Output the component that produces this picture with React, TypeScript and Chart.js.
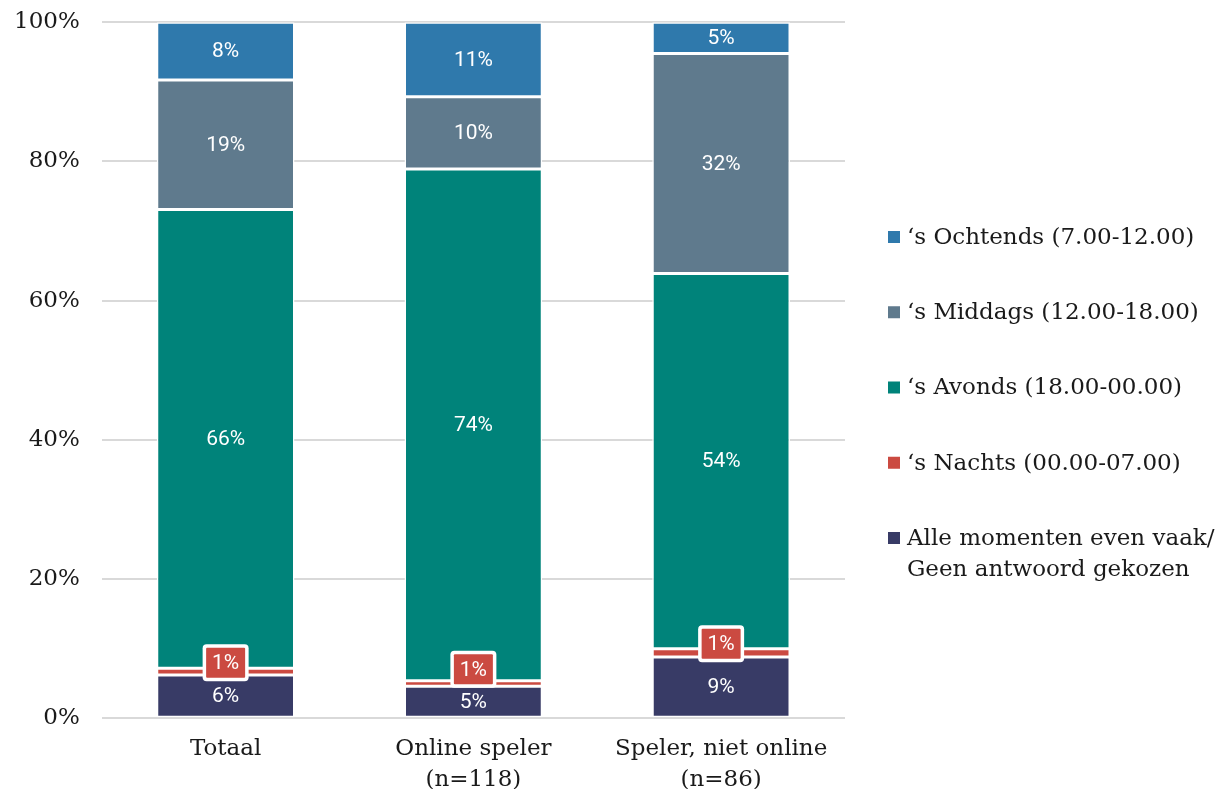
import React, { useEffect, useRef } from 'react';
import { Chart, registerables } from 'chart.js';

Chart.register(...registerables);

const categories: (string | string[])[] = ['Totaal', ['Online speler', '(n=118)'], ['Speler, niet online', '(n=86)']];

const alleMomenten = [6.2, 4.6, 8.8];
const nachts = [1.0, 0.8, 1.2];
const avonds = [65.9, 73.5, 53.9];
const middags = [18.6, 10.4, 31.6];
const ochtends = [8.3, 10.7, 4.5];

const yTickValues = [0, 20, 40, 60, 80, 100];

const seriesLabels = [
  'Alle momenten even vaak/\nGeen antwoord gekozen',
  '\u2018s Nachts (00.00-07.00)',
  '\u2018s Avonds (18.00-00.00)',
  '\u2018s Middags (12.00-18.00)',
  '\u2018s Ochtends (7.00-12.00)',
];
const seriesColors = ['#383b66', '#cb4a41', '#00837a', '#5f7a8d', '#2f79ac'];

const SERIF = '"DejaVu Serif", serif';
const SANS = 'Roboto, "Noto Sans", sans-serif';

const CANVAS_SHIFT_Y = 15;
const LEGEND_X = 888;
const LEGEND_TOP = 237 + CANVAS_SHIFT_Y;
const LEGEND_STEP = 75.25;

const legendPlugin = {
  id: 'sideLegend',
  afterDraw(chart: any) {
    const ctx = chart.ctx as CanvasRenderingContext2D;
    ctx.save();
    ctx.font = `23px ${SERIF}`;
    ctx.textBaseline = 'middle';
    ctx.textAlign = 'left';
    const n = chart.data.datasets.length;
    for (let i = 0; i < n; i++) {
      const ds = chart.data.datasets[n - 1 - i];
      const y = LEGEND_TOP + i * LEGEND_STEP;
      ctx.fillStyle = ds.backgroundColor;
      ctx.fillRect(LEGEND_X, y - 6, 12, 12);
      ctx.fillStyle = '#1a1a1a';
      const lines = String(ds.label).split('\n');
      lines.forEach((line: string, j: number) => ctx.fillText(line, LEGEND_X + 19, y + 1 + j * 31));
    }
    ctx.restore();
  },
};

const labelPlugin = {
  id: 'barLabels',
  afterDatasetsDraw(chart: any) {
    const ctx = chart.ctx as CanvasRenderingContext2D;
    ctx.save();
    ctx.font = `21px ${SANS}`;
    ctx.textAlign = 'center';
    ctx.textBaseline = 'middle';
    chart.data.datasets.forEach((ds: any, di: number) => {
      const meta = chart.getDatasetMeta(di);
      meta.data.forEach((bar: any, i: number) => {
        const v = ds.data[i];
        const text = Math.round(v) + '%';
        const { x, y, base } = bar.getProps(['x', 'y', 'base'], true);
        let cy = (y + base) / 2;
        if (ds.callout) {
          cy -= 9;
          if (di > 0) {
            const below = chart.getDatasetMeta(di - 1).data[i].getProps(['y', 'base'], true);
            const belowTop = (below.y + below.base) / 2 - 11;
            cy = Math.min(cy, belowTop - 3 - 18.5);
          }
          ctx.fillStyle = '#ffffff';
          ctx.beginPath();
          (ctx as any).roundRect(x - 23, cy - 18.5, 46, 37, 4);
          ctx.fill();
          ctx.fillStyle = ds.backgroundColor;
          ctx.beginPath();
          (ctx as any).roundRect(x - 19.5, cy - 15, 39, 30, 1);
          ctx.fill();
        }
        ctx.fillStyle = '#ffffff';
        ctx.fillText(text, x, cy + 1);
      });
    });
    ctx.restore();
  },
};

export default function App() {
  const ref = useRef<HTMLCanvasElement>(null);
  useEffect(() => {
    if (!ref.current) return;
    const seriesData = [alleMomenten, nachts, avonds, middags, ochtends];
    const chart = new Chart(ref.current, {
      type: 'bar',
      data: {
        labels: categories as any,
        datasets: seriesData.map((d, k) => ({
          label: seriesLabels[k],
          data: d,
          backgroundColor: seriesColors[k],
          borderColor: '#ffffff',
          borderWidth: 1.5,
          borderSkipped: false,
          categoryPercentage: 1,
          barPercentage: 0.556,
          callout: k === 1,
        })) as any,
      },
      options: {
        responsive: false,
        animation: false,
        layout: { padding: { left: -8, right: 376, top: -8, bottom: -22 } },
        plugins: {
          legend: { display: false },
          tooltip: { enabled: false },
        },
        scales: {
          x: {
            stacked: true,
            grid: { display: false, drawTicks: false },
            border: { display: false },
            ticks: {
              color: '#1a1a1a',
              font: { family: SERIF, size: 23, lineHeight: 1.32 },
              padding: 16,
              maxRotation: 0,
            },
          },
          y: {
            stacked: true,
            min: 0,
            max: 100,
            afterBuildTicks: (axis: any) => {
              axis.ticks = yTickValues.map((v) => ({ value: v }));
            },
            grid: { color: '#d9d9d9', lineWidth: 2, drawTicks: false },
            border: { display: false },
            ticks: {
              color: '#1a1a1a',
              font: { family: SERIF, size: 23, lineHeight: 1.32 },
              padding: 22,
              callback: (v: any) => v + '%',
            },
          },
        },
      },
      plugins: [labelPlugin, legendPlugin],
    });
    return () => chart.destroy();
  }, []);
  return (
    <div style={{ position: 'fixed', left: 0, top: 0, width: 1221, height: 789, overflow: 'hidden', background: '#fff' }}>
      <canvas
        ref={ref}
        width={1221}
        height={789 + CANVAS_SHIFT_Y}
        style={{ display: 'block', marginTop: -CANVAS_SHIFT_Y }}
      />
    </div>
  );
}
